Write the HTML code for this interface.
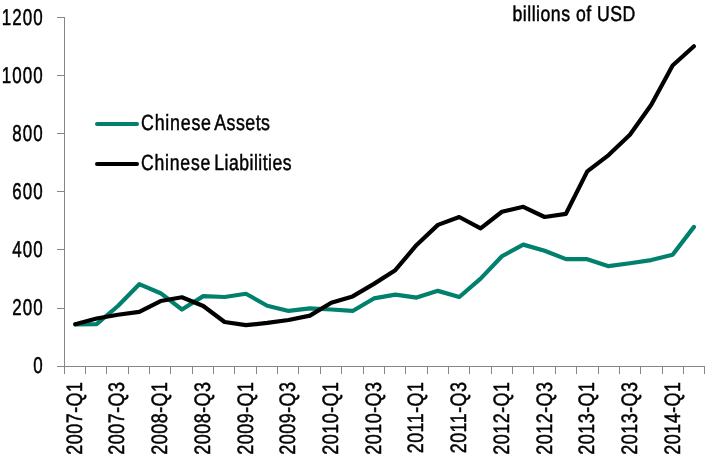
<!DOCTYPE html>
<html lang="en">
<head>
<meta charset="utf-8">
<title>Chinese Assets and Liabilities, billions of USD</title>
<style>
html,body{margin:0;padding:0;background:#fff;}
body{width:715px;height:461px;overflow:hidden;font-family:"Liberation Sans", sans-serif;}
svg{display:block;will-change:transform;}
</style>
</head>
<body>
<svg width="715" height="461" viewBox="0 0 715 461" font-family='"Liberation Sans", sans-serif' fill="#000" text-rendering="geometricPrecision">
<rect width="715" height="461" fill="#fff"/>
<g stroke="#868686" stroke-width="1" fill="none" shape-rendering="crispEdges">
<line x1="64.5" y1="17" x2="64.5" y2="374"/>
<line x1="57" y1="366.5" x2="705" y2="366.5"/>
<line x1="57" y1="308.5" x2="65" y2="308.5"/>
<line x1="57" y1="249.5" x2="65" y2="249.5"/>
<line x1="57" y1="191.5" x2="65" y2="191.5"/>
<line x1="57" y1="133.5" x2="65" y2="133.5"/>
<line x1="57" y1="75.5" x2="65" y2="75.5"/>
<line x1="57" y1="17.5" x2="65" y2="17.5"/>
<line x1="85.5" y1="366" x2="85.5" y2="374"/>
<line x1="106.5" y1="366" x2="106.5" y2="374"/>
<line x1="128.5" y1="366" x2="128.5" y2="374"/>
<line x1="149.5" y1="366" x2="149.5" y2="374"/>
<line x1="170.5" y1="366" x2="170.5" y2="374"/>
<line x1="192.5" y1="366" x2="192.5" y2="374"/>
<line x1="213.5" y1="366" x2="213.5" y2="374"/>
<line x1="234.5" y1="366" x2="234.5" y2="374"/>
<line x1="256.5" y1="366" x2="256.5" y2="374"/>
<line x1="277.5" y1="366" x2="277.5" y2="374"/>
<line x1="298.5" y1="366" x2="298.5" y2="374"/>
<line x1="320.5" y1="366" x2="320.5" y2="374"/>
<line x1="341.5" y1="366" x2="341.5" y2="374"/>
<line x1="363.5" y1="366" x2="363.5" y2="374"/>
<line x1="384.5" y1="366" x2="384.5" y2="374"/>
<line x1="405.5" y1="366" x2="405.5" y2="374"/>
<line x1="427.5" y1="366" x2="427.5" y2="374"/>
<line x1="448.5" y1="366" x2="448.5" y2="374"/>
<line x1="469.5" y1="366" x2="469.5" y2="374"/>
<line x1="491.5" y1="366" x2="491.5" y2="374"/>
<line x1="512.5" y1="366" x2="512.5" y2="374"/>
<line x1="533.5" y1="366" x2="533.5" y2="374"/>
<line x1="555.5" y1="366" x2="555.5" y2="374"/>
<line x1="576.5" y1="366" x2="576.5" y2="374"/>
<line x1="598.5" y1="366" x2="598.5" y2="374"/>
<line x1="619.5" y1="366" x2="619.5" y2="374"/>
<line x1="640.5" y1="366" x2="640.5" y2="374"/>
<line x1="662.5" y1="366" x2="662.5" y2="374"/>
<line x1="683.5" y1="366" x2="683.5" y2="374"/>
<line x1="704.5" y1="366" x2="704.5" y2="374"/>
</g>
<text transform="translate(43.9 373) scale(0.74 1)" text-anchor="end" font-size="22.9" letter-spacing="1.53" stroke="#000" stroke-width="0.5">0</text>
<text transform="translate(43.9 315) scale(0.74 1)" text-anchor="end" font-size="22.9" letter-spacing="1.53" stroke="#000" stroke-width="0.5">200</text>
<text transform="translate(43.9 257) scale(0.74 1)" text-anchor="end" font-size="22.9" letter-spacing="1.53" stroke="#000" stroke-width="0.5">400</text>
<text transform="translate(43.9 199) scale(0.74 1)" text-anchor="end" font-size="22.9" letter-spacing="1.53" stroke="#000" stroke-width="0.5">600</text>
<text transform="translate(43.9 141) scale(0.74 1)" text-anchor="end" font-size="22.9" letter-spacing="1.53" stroke="#000" stroke-width="0.5">800</text>
<text transform="translate(43.9 83) scale(0.74 1)" text-anchor="end" font-size="22.9" letter-spacing="1.53" stroke="#000" stroke-width="0.5">1000</text>
<text transform="translate(43.9 25) scale(0.74 1)" text-anchor="end" font-size="22.9" letter-spacing="1.53" stroke="#000" stroke-width="0.5">1200</text>
<text transform="translate(81.68 381.5) rotate(-90) scale(0.804 1)" text-anchor="end" font-size="22.3" letter-spacing="0.6" stroke="#000" stroke-width="0.5">2007-Q1</text>
<text transform="translate(124.4 381.5) rotate(-90) scale(0.804 1)" text-anchor="end" font-size="22.3" letter-spacing="0.6" stroke="#000" stroke-width="0.5">2007-Q3</text>
<text transform="translate(167.12 381.5) rotate(-90) scale(0.804 1)" text-anchor="end" font-size="22.3" letter-spacing="0.6" stroke="#000" stroke-width="0.5">2008-Q1</text>
<text transform="translate(209.84 381.5) rotate(-90) scale(0.804 1)" text-anchor="end" font-size="22.3" letter-spacing="0.6" stroke="#000" stroke-width="0.5">2008-Q3</text>
<text transform="translate(252.56 381.5) rotate(-90) scale(0.804 1)" text-anchor="end" font-size="22.3" letter-spacing="0.6" stroke="#000" stroke-width="0.5">2009-Q1</text>
<text transform="translate(295.28 381.5) rotate(-90) scale(0.804 1)" text-anchor="end" font-size="22.3" letter-spacing="0.6" stroke="#000" stroke-width="0.5">2009-Q3</text>
<text transform="translate(338.0 381.5) rotate(-90) scale(0.804 1)" text-anchor="end" font-size="22.3" letter-spacing="0.6" stroke="#000" stroke-width="0.5">2010-Q1</text>
<text transform="translate(380.72 381.5) rotate(-90) scale(0.804 1)" text-anchor="end" font-size="22.3" letter-spacing="0.6" stroke="#000" stroke-width="0.5">2010-Q3</text>
<text transform="translate(423.44 381.5) rotate(-90) scale(0.804 1)" text-anchor="end" font-size="22.3" letter-spacing="0.6" stroke="#000" stroke-width="0.5">2011-Q1</text>
<text transform="translate(466.16 381.5) rotate(-90) scale(0.804 1)" text-anchor="end" font-size="22.3" letter-spacing="0.6" stroke="#000" stroke-width="0.5">2011-Q3</text>
<text transform="translate(508.88 381.5) rotate(-90) scale(0.804 1)" text-anchor="end" font-size="22.3" letter-spacing="0.6" stroke="#000" stroke-width="0.5">2012-Q1</text>
<text transform="translate(551.6 381.5) rotate(-90) scale(0.804 1)" text-anchor="end" font-size="22.3" letter-spacing="0.6" stroke="#000" stroke-width="0.5">2012-Q3</text>
<text transform="translate(594.32 381.5) rotate(-90) scale(0.804 1)" text-anchor="end" font-size="22.3" letter-spacing="0.6" stroke="#000" stroke-width="0.5">2013-Q1</text>
<text transform="translate(637.04 381.5) rotate(-90) scale(0.804 1)" text-anchor="end" font-size="22.3" letter-spacing="0.6" stroke="#000" stroke-width="0.5">2013-Q3</text>
<text transform="translate(679.76 381.5) rotate(-90) scale(0.804 1)" text-anchor="end" font-size="22.3" letter-spacing="0.6" stroke="#000" stroke-width="0.5">2014-Q1</text>
<polyline points="75.27,324.32 96.60,324.03 117.93,306.00 139.27,284.19 160.60,293.20 181.93,309.49 203.27,296.11 224.60,296.98 245.93,293.78 267.27,305.71 288.60,310.94 309.93,308.32 331.27,309.49 352.60,310.94 373.93,298.44 395.27,294.65 416.60,297.56 437.93,290.87 459.27,296.98 480.60,278.66 501.93,256.26 523.27,244.63 544.60,250.74 565.93,259.17 587.27,259.17 608.60,266.15 629.93,263.25 651.27,260.05 672.60,254.81 693.93,226.89" fill="none" stroke="#00806d" stroke-width="4.2" stroke-linecap="round" stroke-linejoin="round"/>
<polyline points="75.27,324.32 96.60,318.50 117.93,314.72 139.27,311.81 160.60,301.05 181.93,297.27 203.27,306.00 224.60,321.99 245.93,325.19 267.27,322.87 288.60,319.96 309.93,315.59 331.27,302.80 352.60,296.40 373.93,283.89 395.27,270.22 416.60,244.92 437.93,224.85 459.27,217.00 480.60,228.34 501.93,211.77 523.27,206.82 544.60,217.00 565.93,213.80 587.27,171.34 608.60,155.06 629.93,134.70 651.27,104.74 672.60,65.48 693.93,46.28" fill="none" stroke="#000000" stroke-width="4.2" stroke-linecap="round" stroke-linejoin="round"/>
<line x1="97" y1="124" x2="137" y2="124" stroke="#00806d" stroke-width="4" stroke-linecap="round"/>
<line x1="97" y1="164" x2="137" y2="164" stroke="#000000" stroke-width="4" stroke-linecap="round"/>
<text transform="translate(141.0 130) scale(0.809 1)" font-size="22.0" letter-spacing="0.6" word-spacing="-2.596" stroke="#000" stroke-width="0.5"><tspan letter-spacing="0.971">Chinese</tspan> Assets</text>
<text transform="translate(141.0 170) scale(0.8 1)" font-size="22.0" letter-spacing="0.6" word-spacing="-2.625" stroke="#000" stroke-width="0.5"><tspan letter-spacing="0.975">Chinese</tspan> Liabilities</text>
<text transform="translate(512.5 21) scale(0.826 1)" text-anchor="start" font-size="21.4" letter-spacing="0.6" stroke="#000" stroke-width="0.5">billions of USD</text>
</svg>
</body>
</html>
